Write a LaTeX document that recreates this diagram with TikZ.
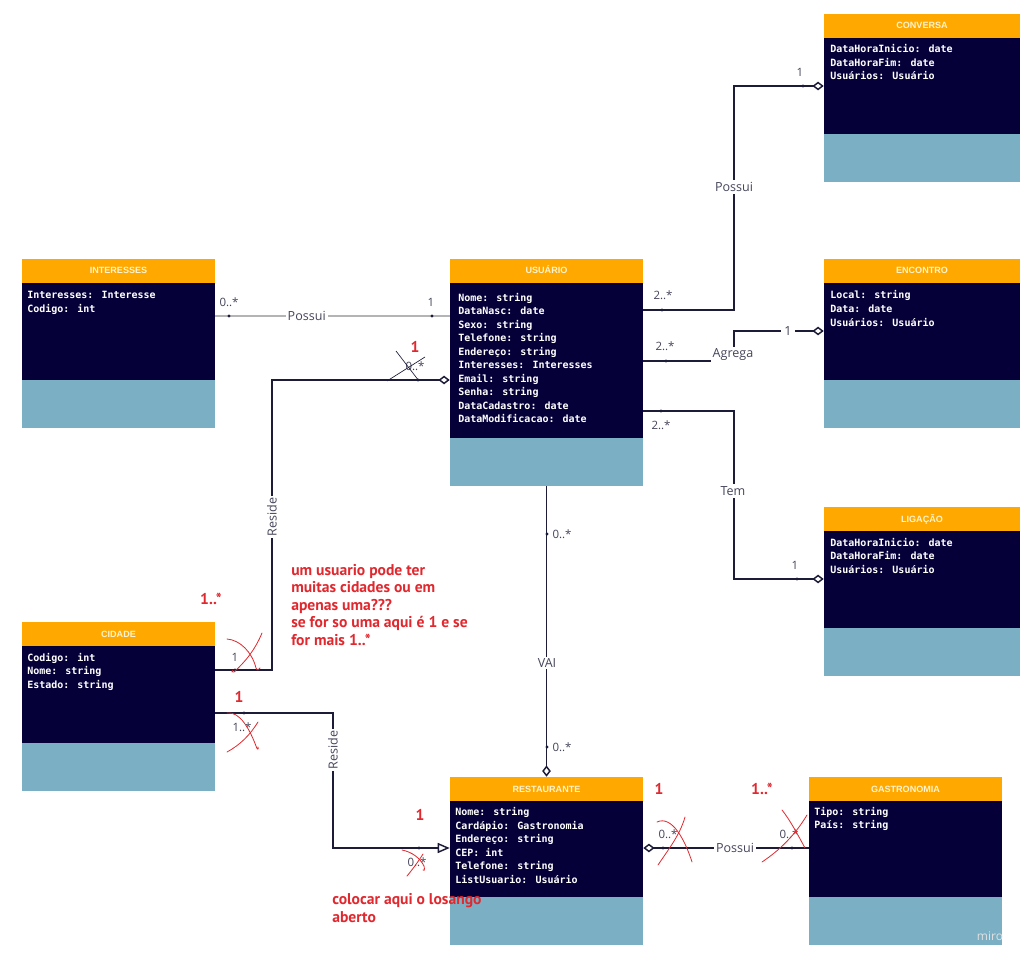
\documentclass[tikz,border=0pt]{standalone}
\usepackage{fontspec}
\setmainfont{Open Sans}
\newfontfamily\attrfont{DejaVu Sans Mono}
\newfontfamily\headfont{Liberation Sans}
\newfontfamily\notefont{PT Sans}
\usetikzlibrary{arrows.meta}

\definecolor{hdrorange}{HTML}{FFA800}
\definecolor{bodynavy}{HTML}{050038}
\definecolor{footblue}{HTML}{7BAFC3}
\definecolor{titlecream}{HTML}{FFF4CC}
\definecolor{linedark}{HTML}{1C1C38}
\definecolor{linegray}{HTML}{B4B4B4}
\definecolor{labelgray}{HTML}{45455A}
\definecolor{noteRed}{HTML}{E0282E}

% one UML class: name, left, top, width, body height, title, attributes, text inset, first baseline
\newcommand{\umlclass}[9]{%
  \fill[hdrorange] (#2,#3) rectangle ++(#4,24);
  \fill[bodynavy] (#2,#3+24) rectangle ++(#4,#5);
  \fill[footblue] (#2,#3+24+#5) rectangle ++(#4,48);
  \node[classframe, minimum width={#4*0.75pt}, minimum height={(72+#5)*0.75pt}] (#1) at (#2+#4/2,#3+36+#5/2) {};
  \node[classtitle] at (#2+#4/2,#3+15) {#6};
  \foreach \row [count=\k from 0] in {#7} \node[attr] at (#2+#8,#3+#9+13.5*\k) {\row};
}

\begin{document}
\begin{tikzpicture}[x=0.75pt,y=-0.75pt,
  classframe/.style={rectangle, inner sep=0pt, draw=none},
  classtitle/.style={text=titlecream, font=\headfont\bfseries\fontsize{6.8}{8}\selectfont, inner sep=0pt, anchor=base},
  attr/.style={text=white, font=\attrfont\bfseries\fontsize{7.5}{9}\selectfont, inner sep=0pt, anchor=base west},
  conn/.style={draw=linedark, line width=1.1pt},
  grayconn/.style={draw=linegray, line width=1.1pt},
  lbl/.style={fill=white, inner sep=1.5pt, text=labelgray, font=\fontsize{9.4}{11}\selectfont},
  mult/.style={text=labelgray, inner sep=0pt, font=\fontsize{8.6}{10}\selectfont},
  redmark/.style={text=noteRed, inner sep=0pt, font=\notefont\bfseries\fontsize{11.7}{14}\selectfont},
  rednote/.style={redmark, anchor=base west},
  redstroke/.style={draw=noteRed, line width=0.6pt, line cap=round},
  penstroke/.style={draw=linedark, line width=0.5pt},
  endpt/.style={circle, fill=linedark, inner sep=0pt, minimum size=2.3pt},
  agg/.style={-{Diamond[open,length=8.5pt,width=6.5pt]}},
  aggstart/.style={{Diamond[open,length=8.5pt,width=6.5pt]}-},
  gen/.style={-{Triangle[open,length=9pt,width=7.5pt]}}
]
\useasboundingbox[fill=white] (0,0) rectangle (1035,966);

% ---- classes ----
\umlclass{conv}{824}{14}{196}{96}{CONVERSA}{DataHoraInicio: date,DataHoraFim: date,Usuários: Usuário}{6}{39}
\umlclass{inter}{22}{259}{193}{97}{INTERESSES}{Interesses: Interesse,Codigo: int}{5}{40}
\umlclass{usu}{450}{259}{193}{155}{USUÁRIO}{Nome: string,DataNasc: date,Sexo: string,Telefone: string,Endereço: string,Interesses: Interesses,Email: string,Senha: string,DataCadastro: date,DataModificacao: date}{8}{42}
\umlclass{enc}{824}{259}{196}{97}{ENCONTRO}{Local: string,Data: date,Usuários: Usuário}{6}{40}
\umlclass{lig}{824}{507}{196}{97}{LIGAÇÃO}{DataHoraInicio: date,DataHoraFim: date,Usuários: Usuário}{6}{39}
\umlclass{cid}{22}{622}{193}{97}{CIDADE}{Codigo: int,Nome: string,Estado: string}{5}{39}
\umlclass{rest}{450}{777}{193}{96}{RESTAURANTE}{Nome: string,Cardápio: Gastronomia,Endereço: string,CEP: int,Telefone: string,ListUsuario: Usuário}{5}{38.5}
\umlclass{gas}{809}{777}{193}{96}{GASTRONOMIA}{Tipo: string,País: string}{5}{38}

% ---- Interesses -- Usuário ----
\draw[grayconn] (inter.east |- 0,316) -- (usu.west |- 0,316)
  node[lbl, pos=0.39] {Possui};
\node[mult] at (229,302) {0..*};
\node[mult] at (431,302) {1};
\node[endpt] at (229,316) {};
\node[endpt] at (432,316) {};

% ---- Usuário -- Conversa ----
\draw[conn, agg] (usu.east |- 0,310) -| (734,200) |- (conv.west |- 0,86);
\node[lbl] at (734,187) {Possui};
\node[mult] at (663,295) {2..*};
\node[mult] at (800,72) {1};
\node[endpt] at (662,310) {};
\node[endpt] at (803,86) {};

% ---- Usuário -- Encontro ----
\draw[conn, agg] (usu.east |- 0,361) -| (734,345) |- (enc.west |- 0,331);
\node[lbl] at (733,355) {Agrega};
\node[lbl, inner sep=2.5pt] at (788,331) {1};
\node[mult] at (665,346) {2..*};
\node[endpt] at (666,361) {};

% ---- Usuário -- Ligação ----
\draw[conn, agg] (usu.east |- 0,411) -| (734,500) |- (lig.west |- 0,579);
\node[lbl] at (733,491) {Tem};
\node[mult] at (661,425) {2..*};
\node[mult] at (795,565) {1};
\node[endpt] at (661,411) {};
\node[endpt] at (797,579) {};

% ---- Usuário -- Restaurante ----
\draw[conn, agg] (usu.south) -- (rest.north);
\node[lbl] at (547,663) {VAI};
\node[mult] at (562,534) {0..*};
\node[mult] at (562,747) {0..*};
\node[endpt] at (547,534) {};
\node[endpt] at (547,747) {};

% ---- Cidade -- Usuário ----
\draw[conn, agg] (cid.east |- 0,670) -| (272,500) |- (usu.west |- 0,380);
\node[lbl, rotate=90] at (272,517) {Reside};
\node[mult] at (235,657) {1};
\node[mult] at (415,366) {0..*};
\node[endpt] at (235,670) {};
\node[endpt] at (418,380) {};
\draw[penstroke] (396,351) -- (419,381);
\draw[penstroke] (387,381) -- (425,357);

% ---- Cidade -- Restaurante ----
\draw[conn, gen] (cid.east |- 0,713) -| (333,800) |- (rest.west |- 0,848);
\node[lbl, rotate=90] at (333,750) {Reside};
\node[mult] at (242,727) {1..*};
\node[mult] at (417,862) {0..*};
\node[endpt] at (244,713) {};
\node[endpt] at (419,848) {};

% ---- Restaurante -- Gastronomia ----
\draw[conn, aggstart] (rest.east |- 0,848) -- (gas.west |- 0,848);
\node[lbl] at (735,848) {Possui};
\node[mult] at (668,834) {0..*};
\node[mult] at (789,834) {0..*};
\node[endpt] at (663,848) {};
\node[endpt] at (792,848) {};

% ---- review notes in red ----
\node[redmark] at (211,599) {1..*};
\node[redmark] at (239,697) {1};
\node[redmark] at (415,347) {1};
\node[redmark] at (420,815) {1};
\node[redmark] at (659,789) {1};
\node[redmark] at (762,789) {1..*};

\node[rednote] at (291,575) {um usuario pode ter};
\node[rednote] at (291,592.5) {muitas cidades ou em};
\node[rednote] at (291,610) {apenas uma???};
\node[rednote] at (291,627.5) {se for so uma aqui é 1 e se};
\node[rednote] at (291,645) {for mais 1..*};
\node[rednote] at (332,904) {colocar aqui o losango};
\node[rednote] at (332,922) {aberto};

% hand-drawn crossings
\draw[redstroke] (227,639) .. controls (240,640) and (252,652) .. (256,668) .. controls (257,671) and (259,670) .. (260,668);
\draw[redstroke] (262,633) .. controls (255,650) and (245,662) .. (234,672) .. controls (232,673) and (231,671) .. (233,670);
\draw[redstroke] (227,713) .. controls (240,711) and (250,730) .. (256,746) .. controls (257,750) and (259,750) .. (258,747);
\draw[redstroke] (258,722) .. controls (250,735) and (240,745) .. (227,752);
\draw[redstroke] (402,850) .. controls (412,852) and (420,858) .. (424,866) .. controls (425,870) and (424,872) .. (423,870);
\draw[redstroke] (423,854) .. controls (418,862) and (412,870) .. (407,876);
\draw[redstroke] (657,822) .. controls (672,815) and (685,840) .. (692,862);
\draw[redstroke] (685,817) .. controls (680,835) and (668,850) .. (658,865);
\draw[redstroke] (782,810) .. controls (790,820) and (798,835) .. (805,848);
\draw[redstroke] (807,815) .. controls (795,835) and (780,850) .. (762,862);

% board watermark
\node[text=black!12, font=\fontsize{9}{10}\selectfont, inner sep=0pt] at (990,936) {miro};
\end{tikzpicture}
\end{document}
